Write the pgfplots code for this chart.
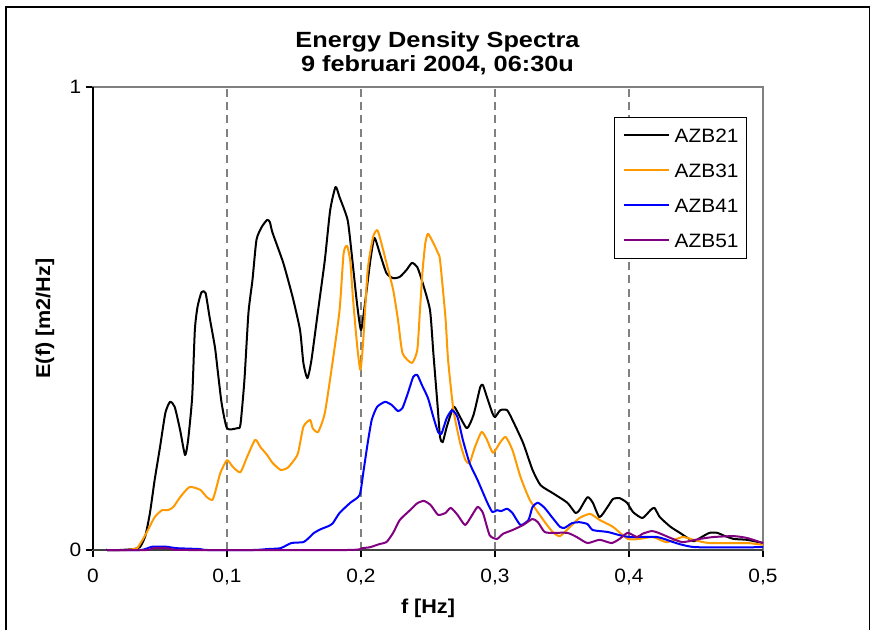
\documentclass[border=0pt]{standalone}
\usepackage{fontspec}
\setmainfont[FakeStretch=1.08]{Liberation Sans}
\newfontfamily\titlefont[FakeStretch=1.15]{Liberation Sans}
\usepackage{pgfplots}
\pgfplotsset{compat=1.18}
\definecolor{xlorange}{RGB}{255,153,0}
\definecolor{xlblue}{RGB}{0,0,255}
\definecolor{xlpurple}{RGB}{128,0,128}
\definecolor{xlgray}{RGB}{128,128,128}

\begin{document}
\begin{tikzpicture}
\useasboundingbox (0,0) rectangle (654.75pt,472.5pt);
% outer chart frame (bottom edge lies outside the picture)
\draw[black,line width=1.1pt] (4.6pt,-3pt) -- (4.6pt,467.3pt) -- (652pt,467.3pt) -- (652pt,-3pt);

\begin{axis}[
  at={(69.75pt,60pt)}, anchor=south west,
  width=502.5pt, height=347.25pt, scale only axis,
  xmin=0, xmax=0.5, ymin=0, ymax=1,
  xtick={0,0.1,0.2,0.3,0.4,0.5},
  xticklabels={0,{0,1},{0,2},{0,3},{0,4},{0,5}},
  ytick={0,1}, yticklabels={0,1},
  xtick pos=bottom, ytick pos=left,
  tick align=outside, major tick length=5.25pt,
  tick style={black, line width=0.8pt},
  ticklabel style={font=\fontsize{14.5}{16}\selectfont},
  xticklabel style={yshift=-5.5pt},
  xmajorgrids,
  grid style={xlgray, line width=0.9pt, dash pattern=on 6pt off 4pt},
  axis line style={draw=xlgray, line width=1.1pt},
  xlabel={f [Hz]}, ylabel={E(f) [m2/Hz]},
  label style={font=\bfseries\fontsize{15}{17}\selectfont},
  xlabel style={at={(axis description cs:0.5,-0.138)}, anchor=base},
  ylabel style={at={(axis description cs:-0.0716,0.5)}, anchor=center},
  clip=false,
  legend cell align=left,
  legend style={at={(axis description cs:0.976,0.935)}, anchor=north east,
    draw=black, line width=0.6pt, inner xsep=6pt, inner ysep=8.25pt,
    row sep=15.75pt, column sep=3.75pt,
    font=\fontsize{14.5}{16}\selectfont,
    nodes={inner sep=0pt, text height=10.5pt, text depth=0pt}},
  legend image code/.code={\draw[#1, line width=1.5pt] (0pt,0pt) -- (33.75pt,0pt);},
  every axis plot/.append style={line width=1.5pt, line join=round, smooth, tension=0.35},
]
\draw[black, line width=1.1pt] (rel axis cs:0,1) -- (rel axis cs:0,0);
\draw[black!75, line width=1.4pt] (rel axis cs:0,0) -- (rel axis cs:1,0);

\addplot[black] coordinates {
(0.010,0.000)(0.020,0.000)(0.030,0.002)(0.035,0.006)(0.039,0.030)(0.0425,0.080)
(0.046,0.151)(0.050,0.222)(0.054,0.296)(0.0575,0.320)(0.061,0.309)(0.065,0.259)
(0.0687,0.205)(0.071,0.238)(0.074,0.330)(0.076,0.475)(0.078,0.525)(0.081,0.557)
(0.084,0.555)(0.087,0.503)(0.091,0.438)(0.093,0.389)(0.096,0.317)(0.100,0.263)
(0.1075,0.263)(0.110,0.270)(0.113,0.367)(0.116,0.512)(0.119,0.583)(0.122,0.670)
(0.126,0.698)(0.130,0.713)(0.132,0.708)(0.134,0.685)(0.142,0.620)(0.149,0.546)
(0.1545,0.475)(0.157,0.404)(0.160,0.371)(0.163,0.410)(0.168,0.518)(0.173,0.626)
(0.177,0.734)(0.181,0.784)(0.184,0.762)(0.190,0.713)(0.193,0.641)(0.197,0.533)
(0.200,0.475)(0.203,0.533)(0.207,0.626)(0.210,0.674)(0.214,0.641)(0.219,0.598)
(0.224,0.587)(0.229,0.590)(0.234,0.605)(0.238,0.620)(0.242,0.611)(0.246,0.577)
(0.2515,0.518)(0.254,0.425)(0.257,0.317)(0.259,0.244)(0.261,0.233)(0.264,0.266)
(0.269,0.309)(0.272,0.298)(0.279,0.263)(0.284,0.292)(0.289,0.352)(0.291,0.356)
(0.294,0.330)(0.298,0.296)(0.300,0.287)(0.304,0.302)(0.309,0.302)(0.313,0.281)
(0.321,0.231)(0.328,0.173)(0.334,0.140)(0.343,0.123)(0.354,0.102)(0.360,0.080)
(0.363,0.086)(0.369,0.114)(0.373,0.102)(0.378,0.071)(0.384,0.093)(0.388,0.110)
(0.393,0.112)(0.3985,0.102)(0.403,0.082)(0.410,0.069)(0.416,0.086)(0.419,0.091)
(0.423,0.071)(0.431,0.050)(0.438,0.037)(0.448,0.019)(0.453,0.026)(0.460,0.037)
(0.466,0.037)(0.470,0.032)(0.478,0.024)(0.488,0.022)(0.500,0.015)
};
\addlegendentry{AZB21}

\addplot[xlorange] coordinates {
(0.010,0.000)(0.025,0.000)(0.030,0.002)(0.033,0.004)(0.037,0.022)(0.041,0.043)
(0.046,0.071)(0.0515,0.086)(0.056,0.086)(0.060,0.093)(0.065,0.114)(0.072,0.136)
(0.080,0.130)(0.085,0.114)(0.089,0.108)(0.091,0.123)(0.095,0.166)(0.100,0.194)
(0.1045,0.179)(0.110,0.168)(0.115,0.201)(0.121,0.238)(0.125,0.222)(0.130,0.205)
(0.134,0.188)(0.140,0.173)(0.145,0.177)(0.149,0.190)(0.153,0.209)(0.157,0.266)
(0.162,0.281)(0.164,0.263)(0.168,0.255)(0.173,0.296)(0.179,0.410)(0.184,0.518)
(0.187,0.640)(0.1896,0.657)(0.192,0.624)(0.194,0.544)(0.197,0.445)(0.1995,0.389)
(0.2015,0.445)(0.205,0.605)(0.209,0.676)(0.212,0.691)(0.214,0.676)(0.219,0.620)
(0.224,0.562)(0.2276,0.497)(0.231,0.425)(0.238,0.404)(0.242,0.432)(0.244,0.518)
(0.246,0.605)(0.248,0.663)(0.250,0.683)(0.254,0.663)(0.2575,0.641)(0.259,0.626)
(0.263,0.503)(0.265,0.410)(0.269,0.302)(0.274,0.231)(0.278,0.194)(0.281,0.188)
(0.285,0.222)(0.290,0.255)(0.294,0.238)(0.2985,0.210)(0.304,0.233)(0.308,0.244)
(0.313,0.216)(0.319,0.158)(0.326,0.108)(0.336,0.065)(0.343,0.039)(0.3485,0.030)
(0.356,0.050)(0.363,0.069)(0.371,0.078)(0.378,0.065)(0.388,0.050)(0.399,0.024)
(0.408,0.024)(0.418,0.028)(0.428,0.017)(0.440,0.028)(0.448,0.022)(0.460,0.015)
(0.488,0.015)(0.500,0.011)
};
\addlegendentry{AZB31}

\addplot[xlblue] coordinates {
(0.010,0.000)(0.035,0.000)(0.040,0.003)(0.044,0.007)(0.055,0.007)(0.062,0.004)
(0.080,0.002)(0.085,0.000)(0.120,0.000)(0.130,0.002)(0.140,0.004)(0.148,0.015)
(0.157,0.017)(0.161,0.026)(0.165,0.037)(0.170,0.045)(0.176,0.052)(0.179,0.058)
(0.184,0.080)(0.192,0.102)(0.199,0.119)(0.202,0.173)(0.205,0.231)(0.208,0.281)
(0.212,0.309)(0.218,0.320)(0.223,0.313)(0.2276,0.300)(0.231,0.307)(0.235,0.339)
(0.239,0.374)(0.242,0.378)(0.2455,0.356)(0.250,0.328)(0.254,0.287)(0.2575,0.255)
(0.260,0.251)(0.264,0.285)(0.268,0.302)(0.272,0.287)(0.276,0.238)(0.281,0.188)
(0.287,0.151)(0.294,0.104)(0.298,0.082)(0.3015,0.086)(0.3045,0.084)(0.309,0.089)
(0.313,0.080)(0.319,0.054)(0.325,0.065)(0.328,0.093)(0.332,0.102)(0.337,0.091)
(0.3425,0.071)(0.3485,0.050)(0.352,0.048)(0.3575,0.058)(0.363,0.060)(0.369,0.056)
(0.373,0.043)(0.384,0.039)(0.393,0.032)(0.401,0.028)(0.421,0.028)(0.433,0.017)
(0.440,0.011)(0.451,0.006)(0.500,0.006)
};
\addlegendentry{AZB41}

\addplot[xlpurple] coordinates {
(0.010,0.000)(0.040,0.000)(0.045,0.004)(0.055,0.004)(0.060,0.001)(0.070,0.000)
(0.190,0.000)(0.2007,0.004)(0.2067,0.006)(0.214,0.013)(0.219,0.017)(0.224,0.037)
(0.229,0.065)(0.2366,0.086)(0.242,0.101)(0.247,0.106)(0.252,0.097)(0.2575,0.076)
(0.263,0.080)(0.267,0.091)(0.272,0.076)(0.2776,0.054)(0.282,0.071)(0.287,0.093)
(0.291,0.080)(0.296,0.032)(0.3015,0.024)(0.306,0.035)(0.313,0.043)(0.321,0.054)
(0.328,0.067)(0.332,0.060)(0.337,0.039)(0.343,0.037)(0.354,0.037)(0.361,0.028)
(0.369,0.015)(0.378,0.022)(0.387,0.015)(0.393,0.024)(0.399,0.037)(0.406,0.028)
(0.410,0.035)(0.417,0.041)(0.422,0.037)(0.431,0.026)(0.440,0.017)(0.453,0.024)
(0.463,0.028)(0.478,0.030)(0.488,0.026)(0.500,0.015)
};
\addlegendentry{AZB51}
\end{axis}

\node[anchor=base, font=\titlefont\bfseries\fontsize{16.5}{19}\selectfont]
  at (328.1pt,436.5pt) {Energy Density Spectra};
\node[anchor=base, font=\titlefont\bfseries\fontsize{16.5}{19}\selectfont]
  at (328.1pt,418.5pt) {9 februari 2004, 06:30u};
\end{tikzpicture}
\end{document}
